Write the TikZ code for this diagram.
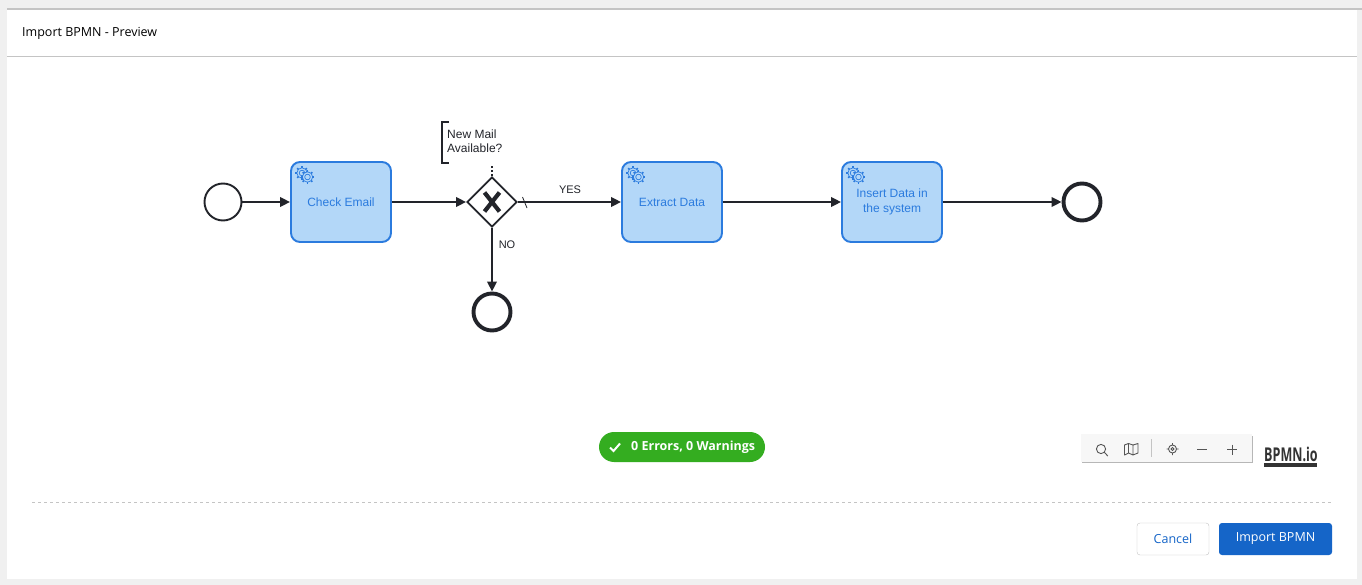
\documentclass[tikz,border=0pt]{standalone}
\usepackage{fontspec}
\setmainfont{Open Sans}
\newfontfamily\flowfont{Liberation Sans}
\usepackage{xcolor}
\usetikzlibrary{arrows.meta,shapes.geometric,shadows}
\definecolor{pageBg}{HTML}{F0F0F0}
\definecolor{rule}{HTML}{C4C4C4}
\definecolor{ink}{HTML}{22242A}
\definecolor{taskBlue}{HTML}{2B7BDE}
\definecolor{taskFill}{HTML}{B3D7F8}
\definecolor{okGreen}{HTML}{34AD20}
\definecolor{btnBlue}{HTML}{1565C8}
\definecolor{toolInk}{HTML}{555555}
\tikzset{
  flow/.style={line width=1.9pt, draw=ink, -{Triangle[length=10pt,width=9.5pt]}},
  startEvent/.style={circle, draw=ink, fill=white, line width=1.9pt, minimum size=37pt, inner sep=0pt},
  endEvent/.style={circle, draw=ink, fill=white, line width=3.9pt, minimum size=37pt, inner sep=0pt},
  task/.style={draw=taskBlue, fill=taskFill, line width=1.9pt, rounded corners=9pt, minimum width=100pt,
    minimum height=80pt, inner sep=0pt, text=taskBlue, align=center, font=\flowfont\fontsize{12}{15.5}\selectfont},
  gateway/.style={diamond, draw=ink, fill=white, line width=1.9pt, minimum width=50pt, minimum height=50pt, inner sep=0pt},
  lab/.style={text=ink, font=\flowfont\fontsize{11}{14}\selectfont, inner sep=0pt},
  tool/.style={draw=toolInk, line width=0.9pt},
  btn/.style={rounded corners=3pt, minimum height=32pt, inner sep=0pt, font=\fontsize{12.5}{15}\selectfont}
}
% one gear of the service marker
\newcommand{\cogwheel}[2]{%
  \draw[draw=taskBlue, line width=0.7pt, fill=taskFill] (#1,#2) circle (5.2pt);
  \foreach \a in {0,45,...,315}
    \draw[draw=taskBlue, line width=1.5pt] (#1,#2) ++(\a:5.2pt) -- ++(\a:1.6pt);
  \draw[draw=taskBlue, line width=0.7pt] (#1,#2) circle (2.8pt);
}
\begin{document}
\begin{tikzpicture}[x=1pt,y=-1pt]
\useasboundingbox (0,0) rectangle (1362,585);
\fill[pageBg] (0,0) rectangle (1362,585);
\fill[white] (7,10) rectangle (1357,579);
\fill[rule] (7,8) rectangle (1362,10);
\draw[rule, line width=1pt] (7,56.5) -- (1357,56.5);
\node[anchor=west, inner sep=0pt, text=black, font=\fontsize{12.5}{15}\selectfont] (title) at (22,33) {Import BPMN - Preview};

% process
\node[startEvent] (start) at (223,202) {};
\node[task] (check) at (341,202) {Check Email};
\node[gateway] (mail) at (492,202) {};
\node[task] (extract) at (672,202) {Extract Data};
\node[task] (insert) at (892,202) {Insert Data in\\the system};
\node[endEvent] (endA) at (1082,202) {};
\node[endEvent] (endB) at (492,312) {};

\draw[flow] (start) -- (check);
\draw[flow] (check) -- (mail);
\draw[flow] (mail) -- (extract);
\draw[flow] (mail) -- (endB);
\draw[flow] (extract) -- (insert);
\draw[flow] (insert) -- (endA);

% gateway marker and default slash
\draw[ink, line width=4.2pt] (484.5,192.5) -- (499.5,211.5) (499.5,192.5) -- (484.5,211.5);
\draw[ink, line width=0.8pt] (522.5,197) -- (527,208);

% service markers
\foreach \cx in {291,622,842} {
  \cogwheel{\cx+11}{173}
  \cogwheel{\cx+16.5}{177}
}

% annotation
\node[lab, anchor=west, align=left, font=\flowfont\fontsize{12}{14.5}\selectfont] (note) at (447,141) {New Mail\\Available?};
\draw[ink, line width=1.6pt] (449,122) -- (442,122) -- (442,163) -- (449,163);
\draw[ink, line width=1.6pt, dash pattern=on 1.6pt off 2.4pt] (mail.north) -- (492,165);
\node[lab] (yes) at (570,190) {YES};
\node[lab] (no) at (507,245) {NO};

% status
\node[fill=okGreen, rounded corners=15pt, minimum width=166pt, minimum height=30pt, inner sep=0pt] (status) at (682,447) {};
\node[text=white, anchor=west, inner sep=0pt, font=\fontsize{12.5}{15}\selectfont\bfseries] (statusText) at (631,447) {0 Errors, 0 Warnings};
\draw[white, line width=2pt] (610,447.5) -- (613.5,451) -- (620,443.5);

% toolbar
\fill[black!40, opacity=.7] (1082,436) rectangle (1253,463);
\fill[white!97!black] (1081,434) rectangle (1252,462);
\draw[tool] (1101,449) circle (4.6pt) (1104.4,452.4) -- (1107.8,456);
\draw[tool, line join=round] (1124.5,445) -- (1128.5,443.5) -- (1133,445) -- (1138,443.5) -- (1138,453) -- (1133,455) -- (1128.5,453) -- (1124.5,455) -- cycle
  (1128.5,443.5) -- (1128.5,453) (1133,445) -- (1133,455);
\draw[rule, line width=1pt] (1151.5,439) -- (1151.5,457);
\draw[tool] (1172.5,449) circle (4pt) (1172.5,449) circle (1.5pt)
  (1172.5,443) -- (1172.5,445) (1172.5,453) -- (1172.5,455) (1166.5,449) -- (1168.5,449) (1176.5,449) -- (1178.5,449);
\draw[tool] (1197,449.5) -- (1207,449.5);
\draw[tool] (1227,449.5) -- (1237,449.5) (1232,444.5) -- (1232,454.5);

% logo
\node[anchor=west, inner sep=0pt, text=black!80, font=\fontsize{19}{20}\selectfont\bfseries] (logo) at (1264,454.5) {\scalebox{.66}[1]{BPMN.io}};
\fill[black!80] (1264,463) rectangle (1317,467);

% footer
\draw[rule, line width=1pt, dashed] (32,502.5) -- (1332,502.5);
\node[btn, draw=rule, fill=white, text=btnBlue, minimum width=72pt] (cancel) at (1173,539) {Cancel};
\node[btn, fill=btnBlue, text=white, minimum width=113pt] (import) at (1275.5,539) {Import BPMN};
\end{tikzpicture}
\end{document}
